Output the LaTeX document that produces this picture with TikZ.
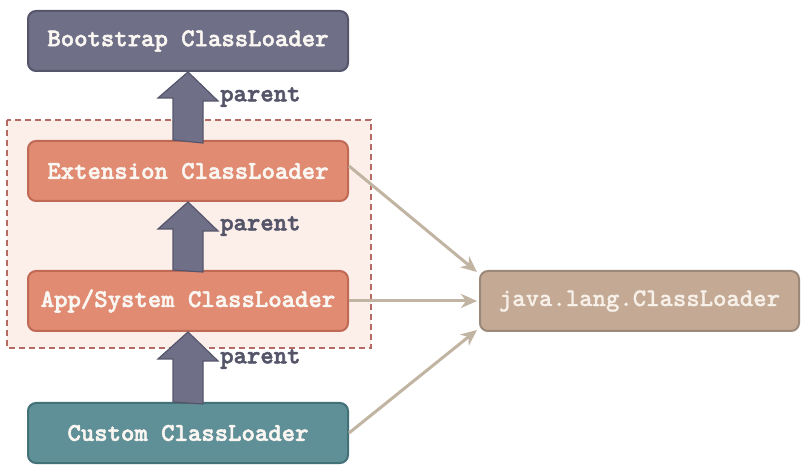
\documentclass[tikz,border=0pt]{standalone}
\usepackage{fontspec}
\newfontfamily\codefont{lmmonolt10-bold.otf}[FakeBold=2]
\newfontfamily\codelight{lmmonolt10-bold.otf}[FakeBold=0.8]
\usetikzlibrary{arrows.meta}
\definecolor{bootfill}{HTML}{6F6F87}
\definecolor{bootdraw}{HTML}{55556B}
\definecolor{extfill}{HTML}{E08B72}
\definecolor{extdraw}{HTML}{C06A56}
\definecolor{custfill}{HTML}{5F8F97}
\definecolor{custdraw}{HTML}{437178}
\definecolor{javafill}{HTML}{C4AA95}
\definecolor{javadraw}{HTML}{9C8878}
\definecolor{javatext}{HTML}{F7F0E8}
\definecolor{zonefill}{HTML}{FCEFE9}
\definecolor{zonedraw}{HTML}{B56A64}
\definecolor{connc}{HTML}{C2B4A2}
\definecolor{labelc}{HTML}{55556A}
\definecolor{boxtext}{HTML}{FAF6F2}
\tikzset{
  loader/.style={rounded corners=8pt, line width=2pt, minimum width=320pt, minimum height=60pt, inner sep=0pt,
    font=\codefont\fontsize{25.5}{28}\selectfont, text=boxtext},
  boot/.style={loader, fill=bootfill, draw=bootdraw},
  ext/.style={loader, fill=extfill, draw=extdraw},
  cust/.style={loader, fill=custfill, draw=custdraw},
  jl/.style={loader, minimum width=319pt, fill=javafill, draw=javadraw, text=javatext,
    font=\codelight\fontsize{25.5}{28}\selectfont},
  blockarrow/.style={fill=bootfill, draw=bootdraw, line width=1.2pt, line join=miter},
  parentlbl/.style={anchor=west, inner sep=0pt, text=labelc, font=\codefont\fontsize{25.5}{28}\selectfont},
  conn/.style={draw=connc, line width=3pt, -{Stealth[length=16pt,width=14pt,inset=5pt]}},
  zone/.style={fill=zonefill, draw=zonedraw, line width=1.5pt, dash pattern=on 6pt off 4pt}
}
\begin{document}
\begin{tikzpicture}[x=1pt,y=-1pt]
\useasboundingbox (0,0) rectangle (807,473);
\fill[white] (0,0) rectangle (807,473);
\draw[zone] (7,120) rectangle (371,348);
\node[boot] (boot) at (188,41) {Bootstrap ClassLoader};
\node[ext] (ext) at (188,171) {Extension ClassLoader};
\node[ext] (app) at (188,301) {App/System ClassLoader};
\node[cust] (cust) at (188,433) {Custom ClassLoader};
\node[jl] (java) at (639.5,301) {java.lang.ClassLoader};
% block arrows
\draw[blockarrow] (ext.north) ++(-15,0) -- ++(0,-42) -- ++(-15,0) -- (boot.south) -- ++(30,29) -- ++(-15,0) -- ++(0,42) -- cycle;
\draw[blockarrow] (app.north) ++(-15,0) -- ++(0,-41) -- ++(-15,0) -- (ext.south) -- ++(30,29) -- ++(-15,0) -- ++(0,41) -- cycle;
\draw[blockarrow] (cust.north) ++(-15,0) -- ++(0,-43) -- ++(-15,0) -- (app.south) -- ++(30,29) -- ++(-15,0) -- ++(0,43) -- cycle;
\node[parentlbl] (p1) at (220,97) {parent};
\node[parentlbl] (p2) at (220,226) {parent};
\node[parentlbl] (p3) at (220,359) {parent};
% connectors
\draw[conn] ([yshift=5pt]ext.east) -- ([xshift=-2pt,yshift=-2pt]java.north west);
\draw[conn] (app.east) -- ([xshift=-2pt]java.west);
\draw[conn] (cust.east) -- ([xshift=-2pt,yshift=2pt]java.south west);
\end{tikzpicture}
\end{document}
